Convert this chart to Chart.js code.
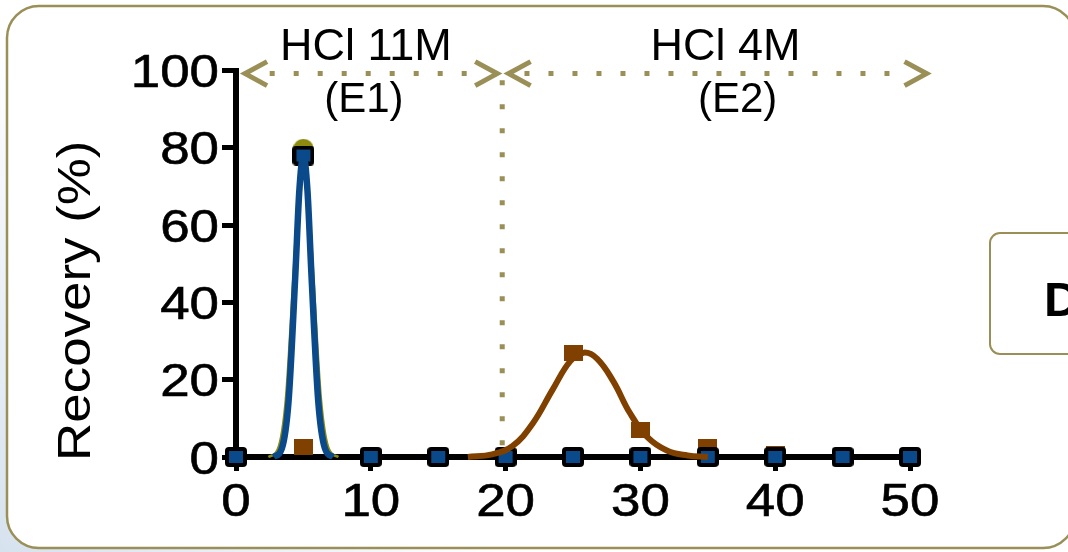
<!DOCTYPE html>
<html>
<head>
<meta charset="utf-8">
<title>Recovery (%)</title>
<script src="https://cdn.jsdelivr.net/npm/chart.js@4.4.1/dist/chart.umd.min.js"></script>
<style>
  html, body { margin: 0; padding: 0; background: #ffffff; }
  #wrap { width: 1068px; height: 552px; }
</style>
</head>
<body>
<div id="wrap"><canvas id="chart" width="1068" height="552"></canvas></div>
<script>
// Sampled fractions (x) and measured recoveries (%) per series
const fractions   = [0, 5, 10, 15, 20, 25, 30, 35, 40, 45, 50];
const recoveryA   = [0, 80, 0, 0, 0, 0, 0, 0, 0, 0, 0];      // olive circles
const recoveryB   = [0, 78, 0, 0, 0, 0, 0, 0, 0, 0, 0];      // blue squares
const recoveryC   = [0, 2.6, 0, 0, 0, 27, 7, 2.6, 0.8, 0, 0]; // brown squares

// Fitted elution peaks
const fitAx = [2.4, 3.1, 3.7, 4.25, 4.7, 5.0, 5.3, 5.75, 6.3, 6.9, 7.6];
const fitAy = [0, 2, 15, 46, 72, 80, 72, 46, 15, 2, 0];
const fitBx = [2.8, 3.4, 3.9, 4.4, 4.7, 5.0, 5.3, 5.6, 6.1, 6.6, 7.2];
const fitBy = [0, 2.2, 14.5, 47, 69, 78, 69, 47, 14.5, 2.2, 0];
const fitCx = [17.2, 19.0, 20.5, 22.0, 23.5, 24.8, 25.8, 26.8, 28.0, 29.2, 30.5, 32.0, 33.5, 35.0];
const fitCy = [0, 0.7, 2.8, 8.6, 17.5, 24.8, 27, 25.4, 19.5, 11.5, 5.2, 1.6, 0.4, 0];

// Axis ticks
const xTicks = [0, 10, 20, 30, 40, 50];
const yTicks = [0, 20, 40, 60, 80, 100];

// Eluent annotations
const eluentNames = ['HCl 11M', 'HCl 4M'];
const eluentCodes = ['(E1)', '(E2)'];
const yTitle = 'Recovery (%)';

const BLUE = '#0b4a8a', BROWN = '#7f4000', OLIVE = '#8c8b0e', KHAKI = '#9a9057';
const STRETCH = 1.15;
const TICK_FONT = "46px 'Liberation Sans', Arial, sans-serif";

const pts = (xs, ys) => xs.map((x, i) => ({ x: x, y: ys[i] }));

function makeMarker(w, h, paint) {
  const c = document.createElement('canvas');
  c.width = w; c.height = h;
  paint(c.getContext('2d'), w, h);
  return c;
}
function roundRectPath(ctx, x, y, w, h, r) {
  ctx.beginPath();
  ctx.moveTo(x + r, y);
  ctx.lineTo(x + w - r, y);
  ctx.arcTo(x + w, y, x + w, y + r, r);
  ctx.lineTo(x + w, y + h - r);
  ctx.arcTo(x + w, y + h, x + w - r, y + h, r);
  ctx.lineTo(x + r, y + h);
  ctx.arcTo(x, y + h, x, y + h - r, r);
  ctx.lineTo(x, y + r);
  ctx.arcTo(x, y, x + r, y, r);
  ctx.closePath();
}

const blueMarker = makeMarker(22, 20, (c, w, h) => {
  c.fillStyle = '#000';
  roundRectPath(c, 0, 0, w, h, 4);
  c.fill();
  c.fillStyle = BLUE;
  c.fillRect(4, 4, w - 8, h - 8);
});
const brownMarker = makeMarker(19, 16, (c, w, h) => {
  c.fillStyle = BROWN;
  c.fillRect(0, 0, w, h);
});
const oliveMarker = makeMarker(20, 18, (c, w, h) => {
  c.fillStyle = OLIVE;
  c.beginPath();
  c.ellipse(w / 2, h / 2, w / 2, h / 2, 0, 0, Math.PI * 2);
  c.fill();
});

function stretchedText(ctx, text, x, y, font, align, sx) {
  ctx.save();
  ctx.translate(x, y);
  ctx.scale(sx, 1);
  ctx.font = font;
  ctx.textAlign = align;
  ctx.textBaseline = 'alphabetic';
  ctx.fillStyle = '#000';
  ctx.strokeStyle = '#000';
  ctx.lineWidth = 0.6;
  ctx.fillText(text, 0, 0);
  ctx.strokeText(text, 0, 0);
  ctx.restore();
}

// Panel frame, eluent arrows and the text drawn around the plot
const panelPlugin = {
  id: 'panel',
  beforeDraw(chart) {
    const ctx = chart.ctx;
    ctx.save();
    const g = ctx.createLinearGradient(0, 552, 260, 300);
    g.addColorStop(0, '#d6e2ee');
    g.addColorStop(1, '#ffffff');
    ctx.fillStyle = g;
    ctx.fillRect(0, 0, chart.width, chart.height);
    roundRectPath(ctx, 7, 6, 1068, 542, 32);
    ctx.fillStyle = '#ffffff';
    ctx.fill();
    ctx.lineWidth = 2.5;
    ctx.strokeStyle = KHAKI;
    ctx.stroke();
    // side panel tab
    roundRectPath(ctx, 990, 233, 110, 121, 10);
    ctx.fillStyle = '#ffffff';
    ctx.fill();
    ctx.lineWidth = 2;
    ctx.strokeStyle = KHAKI;
    ctx.stroke();
    ctx.font = "bold 49px 'Liberation Sans', Arial, sans-serif";
    ctx.fillStyle = '#000';
    ctx.textAlign = 'left';
    ctx.fillText('D', 1044, 316);
    ctx.restore();
  },
  beforeDatasetsDraw(chart) {
    const ctx = chart.ctx, xs = chart.scales.x, ys = chart.scales.y;
    const X = v => xs.getPixelForValue(v), Y = v => ys.getPixelForValue(v);
    const yArrow = Y(99.2);
    ctx.save();
    ctx.strokeStyle = KHAKI;
    ctx.fillStyle = KHAKI;
    ctx.lineWidth = 5;
    ctx.lineCap = 'butt';
    // dotted guide at the eluent switch
    ctx.setLineDash([5, 19]);
    ctx.beginPath();
    ctx.moveTo(X(19.75), Y(97.5));
    ctx.lineTo(X(19.75), Y(0));
    ctx.stroke();
    // dotted arrow shafts
    const shafts = [[2.5, 17.8], [21.4, 49.4]];
    shafts.forEach(([a, b]) => {
      ctx.beginPath();
      ctx.moveTo(X(a), yArrow);
      ctx.lineTo(X(b), yArrow);
      ctx.stroke();
    });
    ctx.setLineDash([]);
    // chevron heads
    ctx.lineJoin = 'miter';
    const head = (tipX, dir) => {
      ctx.beginPath();
      ctx.moveTo(tipX + dir * 22, yArrow - 12);
      ctx.lineTo(tipX, yArrow);
      ctx.lineTo(tipX + dir * 22, yArrow + 12);
      ctx.stroke();
    };
    head(X(0.45) + 3, 1);
    head(X(19.6) - 3, -1);
    head(X(20.0) + 3, 1);
    head(X(51.45) - 3, -1);
    ctx.restore();
  },
  afterDraw(chart) {
    const ctx = chart.ctx, xs = chart.scales.x, ys = chart.scales.y;
    // tick labels
    xs.ticks.forEach(t => {
      stretchedText(ctx, String(t.value), xs.getPixelForValue(t.value), xs.top + 59, TICK_FONT, 'center', STRETCH);
    });
    ys.ticks.forEach(t => {
      stretchedText(ctx, String(t.value), ys.right - 17, ys.getPixelForValue(t.value) + 16.5, TICK_FONT, 'right', STRETCH);
    });
    // y title
    ctx.save();
    ctx.translate(90, (ys.top + ys.bottom) / 2 + 37);
    ctx.rotate(-Math.PI / 2);
    ctx.scale(STRETCH, 1);
    ctx.font = TICK_FONT;
    ctx.textAlign = 'center';
    ctx.fillStyle = '#000';
    ctx.fillText(yTitle, 0, 0);
    ctx.restore();
    // eluent labels
    const nameX = [9.64, 36.32], codeX = [9.49, 37.21];
    ctx.save();
    ctx.fillStyle = '#000';
    ctx.textAlign = 'center';
    ctx.font = "45px 'Liberation Sans', Arial, sans-serif";
    eluentNames.forEach((s, i) => ctx.fillText(s, xs.getPixelForValue(nameX[i]), 60));
    ctx.font = "42px 'Liberation Sans', Arial, sans-serif";
    eluentCodes.forEach((s, i) => ctx.fillText(s, xs.getPixelForValue(codeX[i]), 112));
    ctx.restore();
  }
};

const axisCommon = {
  type: 'linear',
  ticks: { display: false },
  grid: { drawOnChartArea: false, drawTicks: true, tickLength: 14, tickWidth: 5, lineWidth: 5, tickColor: '#000' },
  border: { display: true, color: '#000', width: 6 }
};

new Chart(document.getElementById('chart'), {
  type: 'scatter',
  data: {
    datasets: [
      { data: pts(fitBx, fitBy), showLine: true, borderColor: BLUE, borderWidth: 6.5, pointRadius: 0,
        cubicInterpolationMode: 'monotone', order: 1, clip: false },
      { data: pts(fitCx, fitCy), showLine: true, borderColor: BROWN, borderWidth: 6, pointRadius: 0,
        tension: 0.4, order: 2, clip: false },
      { data: pts(fractions, recoveryB), showLine: false, pointStyle: blueMarker, pointRadius: 10, order: 3, clip: false },
      { data: pts(fractions, recoveryC), showLine: false, pointStyle: brownMarker, pointRadius: 9, order: 4, clip: false },
      { data: pts(fractions, recoveryA), showLine: false, pointStyle: oliveMarker, pointRadius: 9, order: 5, clip: false },
      { data: pts(fitAx, fitAy), showLine: true, borderColor: OLIVE, borderWidth: 2.5, pointRadius: 0,
        cubicInterpolationMode: 'monotone', order: 6, clip: false }
    ]
  },
  options: {
    responsive: false,
    devicePixelRatio: 1,
    animation: false,
    events: [],
    layout: { padding: { left: 0, right: 158, top: 70.5, bottom: 0 } },
    plugins: { legend: { display: false }, tooltip: { enabled: false } },
    scales: {
      x: Object.assign({}, axisCommon, {
        min: 0, max: 50,
        afterBuildTicks: s => { s.ticks = xTicks.map(v => ({ value: v })); },
        afterFit: s => { s.height = 95; }
      }),
      y: Object.assign({}, axisCommon, {
        min: 0, max: 100,
        afterBuildTicks: s => { s.ticks = yTicks.map(v => ({ value: v })); },
        afterFit: s => { s.width = 236; }
      })
    }
  },
  plugins: [panelPlugin]
});
</script>
</body>
</html>
